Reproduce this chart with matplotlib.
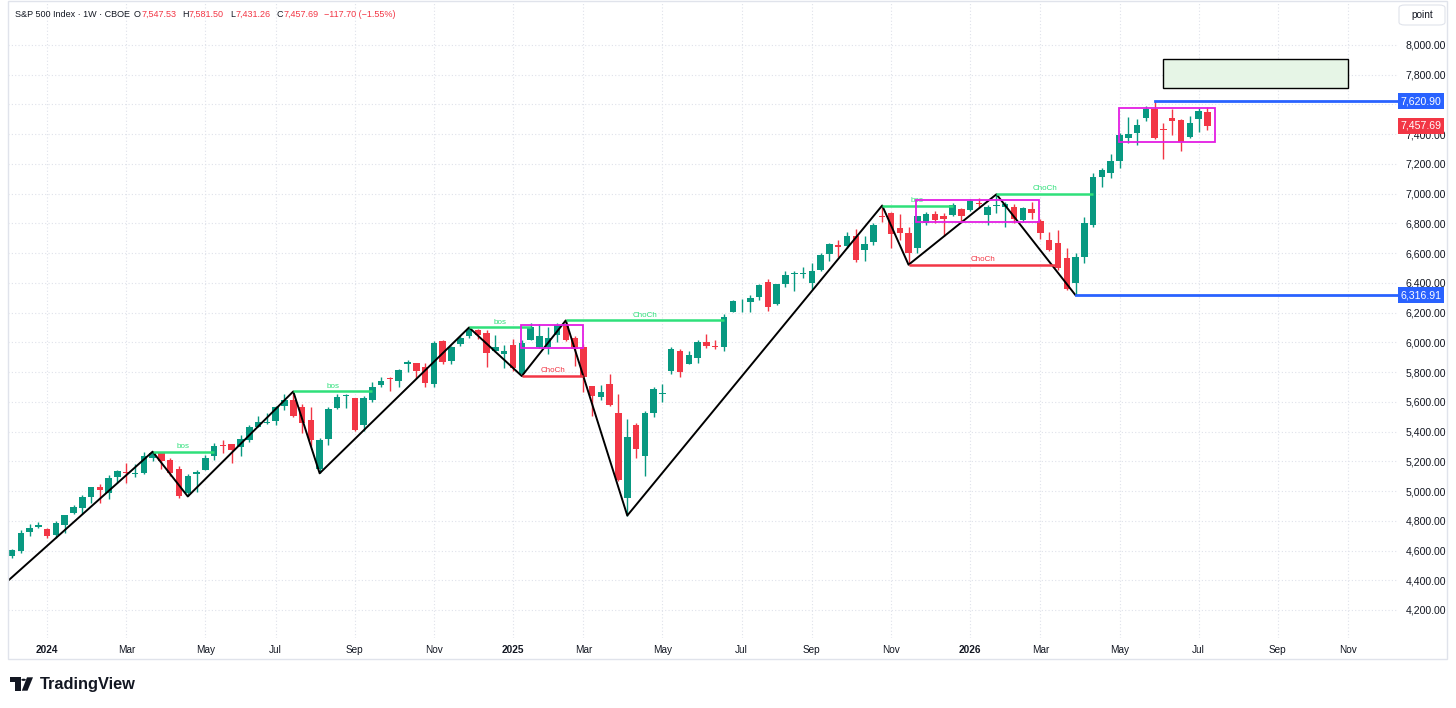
import numpy as np
import pandas as pd
import matplotlib
matplotlib.use("Agg")
import matplotlib.pyplot as plt
from matplotlib.patches import Rectangle, Polygon, Circle, FancyBboxPatch
import matplotlib.transforms as mtransforms

plt.rcParams['font.family'] = ['Liberation Sans', 'DejaVu Sans']

# ---------------- data ----------------
first_week = '2023-12-04'
opens = [4564.37, 4593.39, 4725.58, 4758.86, 4745.20, 4703.70, 4772.35, 4853.42, 4888.91, 4957.19,
         5026.83, 4989.32, 5093.00, 5130.99, 5111.96, 5123.31, 5219.52, 5257.97, 5211.37, 5149.67,
         4987.33, 5114.13, 5142.42, 5233.08, 5305.35, 5315.91, 5297.15, 5341.22, 5432.39, 5459.58,
         5471.08, 5572.75, 5614.05, 5565.30, 5476.55, 5151.14, 5351.68, 5557.23, 5637.77, 5623.89,
         5442.07, 5615.21, 5711.90, 5757.73, 5737.80, 5855.08, 5857.82, 5833.93, 5722.43, 6008.86,
         5874.17, 5992.28, 6040.11, 6083.01, 6063.79, 5940.25, 5920.67, 5982.81, 5788.10, 6014.12,
         5969.65, 5969.65, 6046.40, 6121.60, 6026.69, 5968.33, 5705.37, 5635.60, 5718.08, 5527.91,
         4953.79, 5441.96, 5232.94, 5525.21, 5655.32, 5807.25, 5939.95, 5854.07, 5896.68, 6004.60,
         5977.05, 5969.67, 6204.95, 6255.15, 6268.44, 6304.74, 6406.17, 6260.40, 6389.67, 6457.67,
         6457.47, 6401.51, 6485.00, 6594.00, 6657.00, 6650.00, 6718.00, 6621.00, 6676.00, 6850.00,
         6867.00, 6770.00, 6737.00, 6632.00, 6805, 6861, 6852, 6857, 6895, 6890,
         6940, 6857, 6920, 6913, 6908, 6823, 6895, 6816, 6688, 6666,
         6565, 6397, 6576, 6789, 7110, 7141, 7222, 7377, 7410, 7507,
         7567, 7432, 7508, 7496, 7383, 7500, 7547.53]
highs = [4609.23, 4738.57, 4778.01, 4793.30, 4754.33, 4798.50, 4842.07, 4907.85, 4975.29, 5030.06,
         5048.39, 5111.06, 5140.33, 5189.26, 5179.14, 5261.10, 5264.85, 5263.95, 5222.22, 5168.43,
         5114.62, 5139.12, 5239.66, 5325.49, 5341.88, 5315.91, 5375.08, 5447.25, 5505.53, 5523.64,
         5570.33, 5655.56, 5669.67, 5585.34, 5566.16, 5358.60, 5563.41, 5651.62, 5651.37, 5626.02,
         5636.27, 5733.57, 5767.37, 5765.14, 5822.13, 5878.46, 5862.82, 5863.04, 6012.45, 6017.31,
         5977.87, 6044.17, 6099.97, 6089.41, 6085.19, 6049.75, 5985.06, 6021.04, 6014.96, 6128.18,
         6120.91, 6101.28, 6127.47, 6147.43, 6043.65, 5986.09, 5705.37, 5715.33, 5786.95, 5655.59,
         5481.34, 5459.46, 5540.59, 5700.53, 5720.10, 5969.24, 5953.06, 5943.13, 6016.87, 6059.40,
         6018.20, 6187.68, 6284.65, 6290.22, 6315.61, 6395.82, 6427.02, 6395.16, 6481.34, 6478.67,
         6508.23, 6532.65, 6600.21, 6671.00, 6690.00, 6740.00, 6760.00, 6715.00, 6801.00, 6920.34,
         6880.00, 6863.00, 6775.00, 6853.00, 6879, 6886, 6868, 6935, 6902, 6962,
         6969, 6924, 6996, 6946, 6931, 6912, 6946, 6828, 6744, 6756,
         6633, 6599, 6845, 7137, 7171, 7267, 7406, 7514, 7500, 7590,
         7620.90, 7473, 7567, 7500, 7522, 7574, 7581.50]
lows = [4546.50, 4583.00, 4699.71, 4751.99, 4682.11, 4682.11, 4714.82, 4845.15, 4845.15, 4918.09,
        4920.31, 4946.00, 5057.29, 5056.82, 5091.38, 5117.50, 5203.42, 5146.06, 5102.54, 4953.56,
        4963.50, 4990.58, 5142.42, 5211.16, 5256.93, 5191.68, 5234.32, 5327.25, 5428.07, 5447.87,
        5446.41, 5546.36, 5497.04, 5390.95, 5302.40, 5119.26, 5306.99, 5550.74, 5560.95, 5402.62,
        5404.92, 5596.35, 5698.87, 5674.00, 5696.68, 5800.53, 5762.41, 5696.51, 5696.51, 5853.01,
        5856.26, 5975.64, 6030.17, 6024.93, 5832.30, 5932.86, 5829.53, 5809.22, 5773.31, 6014.12,
        5962.92, 5923.93, 6003.00, 6008.56, 5837.66, 5666.29, 5504.65, 5610.76, 5572.42, 5069.90,
        4835.04, 5220.79, 5101.63, 5497.04, 5602.00, 5786.08, 5767.41, 5854.07, 5861.43, 5963.21,
        5952.56, 5943.23, 6201.01, 6201.59, 6201.84, 6281.71, 6212.69, 6248.49, 6373.37, 6343.85,
        6430.48, 6360.58, 6478.00, 6549.00, 6576.00, 6633.00, 6540.00, 6549.00, 6655.00, 6810.00,
        6633.00, 6688.00, 6521.92, 6600.00, 6789, 6801, 6715, 6850, 6816, 6885,
        6902, 6789, 6868, 6778, 6805, 6811, 6828, 6693, 6616, 6487,
        6352, 6316.91, 6532, 6778, 7043, 7103, 7171, 7339, 7327, 7491,
        7366, 7231, 7395, 7289, 7372, 7417, 7431.26]
closes = [4604.37, 4719.19, 4754.63, 4769.83, 4697.24, 4783.83, 4839.81, 4890.97, 4958.61, 5026.61,
          5005.57, 5088.80, 5137.08, 5123.69, 5117.09, 5234.18, 5254.35, 5204.34, 5123.41, 4967.23,
          5099.96, 5127.79, 5222.68, 5303.27, 5304.72, 5277.51, 5346.99, 5431.60, 5464.62, 5460.48,
          5567.19, 5615.35, 5505.00, 5459.10, 5346.56, 5344.16, 5554.25, 5634.61, 5648.40, 5408.42,
          5626.02, 5702.55, 5738.17, 5751.07, 5815.03, 5864.67, 5808.12, 5728.80, 5995.54, 5870.62,
          5969.34, 6032.38, 6090.27, 6051.09, 5930.85, 5970.84, 5942.47, 5827.04, 5996.66, 6101.24,
          6040.53, 6025.99, 6114.63, 6013.13, 5954.50, 5770.20, 5638.94, 5667.56, 5580.94, 5074.08,
          5363.36, 5282.70, 5525.21, 5686.67, 5659.91, 5958.38, 5802.82, 5911.69, 6000.36, 5976.97,
          5967.84, 6173.07, 6279.35, 6259.75, 6296.79, 6388.64, 6238.01, 6389.45, 6449.80, 6466.91,
          6460.26, 6481.50, 6584.29, 6664.36, 6643.70, 6715.79, 6552.51, 6664.01, 6791.69, 6840.20,
          6728.80, 6734.11, 6602.99, 6849.09, 6861, 6823, 6828, 6924, 6850, 6953,
          6932, 6908, 6926, 6929, 6828, 6901, 6872, 6733, 6621, 6498,
          6357, 6576, 6805, 7114, 7159, 7222, 7395, 7399, 7462, 7567,
          7377, 7426, 7491, 7350, 7473, 7558, 7457.69]

# zigzag swing points (bar index, price)
zz_idx = [-6, 16, 20, 32, 35, 52, 58, 63, 70, 99, 102, 112, 121]
zz_price = [4103.78, 5264.85, 4963.50, 5669.67, 5119.26, 6099.97, 5773.31, 6147.43,
            4835.04, 6920.34, 6521.92, 6996.00, 6316.91]

# structure breaks
struct_start = [16, 32, 52, 63, 58, 99, 112, 102]
struct_end = [23, 41, 59, 81, 65, 107, 123, 119]
struct_level = [5264.85, 5669.67, 6099.97, 6147.43, 5773.31, 6920.34, 6996.00, 6521.92]
struct_label = ['bos', 'bos', 'bos', 'ChoCh', 'ChoCh', 'bos', 'ChoCh', 'ChoCh']
struct_bull = [True, True, True, True, False, True, True, False]

# consolidation boxes
box_x0 = [57.9, 102.8, 125.9]
box_x1 = [65.0, 116.8, 136.9]
box_lo = [5960, 6811, 7346]
box_hi = [6117, 6957, 7574]

# key levels
level_idx = [121, 130]
level_price = [6316.91, 7620.90]

# target zone
zone_x0, zone_x1 = 131, 152
zone_lo, zone_hi = 7710, 7905

price_ticks = [4200, 4400, 4600, 4800, 5000, 5200, 5400, 5600, 5800, 6000, 6200,
               6400, 6600, 6800, 7000, 7200, 7400, 7600, 7800, 8000]
hidden_price_labels = [7600]   # covered by the 7,620.90 marker in the reference
tick_months = ['2024-01', '2024-03', '2024-05', '2024-07', '2024-09', '2024-11',
               '2025-01', '2025-03', '2025-05', '2025-07', '2025-09', '2025-11',
               '2026-01', '2026-03', '2026-05', '2026-07', '2026-09', '2026-11']
tick_labels = ['2024', 'Mar', 'May', 'Jul', 'Sep', 'Nov',
               '2025', 'Mar', 'May', 'Jul', 'Sep', 'Nov',
               '2026', 'Mar', 'May', 'Jul', 'Sep', 'Nov']

last_price = 7457.69

# ---------------- figure ----------------
W, H = 1456, 708
fig = plt.figure(figsize=(W / 100, H / 100), dpi=100)
fig.patch.set_facecolor('white')

def fx(px):
    return px / W

def fy(py):
    return 1 - py / H

ax_left, ax_right, ax_top, ax_bot = 8, 1397, 2, 638
ax = fig.add_axes([fx(ax_left), fy(ax_bot), (ax_right - ax_left) / W, (ax_bot - ax_top) / H])
ax.set_xlim(-0.455, 157.57)
ax.set_ylim(4011.5, 8289.2)
for s in ax.spines.values():
    s.set_visible(False)

GREEN = '#089981'
RED = '#f23645'
TXT = '#131722'

n = len(opens)
idx = np.arange(n)
o = np.array(opens, float)
h = np.array(highs, float)
l = np.array(lows, float)
c = np.array(closes, float)
up = c >= o
cols = np.where(up, GREEN, RED)
body_lo = np.minimum(o, c)
body_h = np.maximum(np.abs(c - o), 6)

ax.vlines(idx, l, h, colors=cols, lw=1.0, zorder=3)
ax.bar(idx, body_h, bottom=body_lo, width=0.74, color=cols, zorder=3.1, linewidth=0)

# grid / ticks
ax.set_yticks(price_ticks)
ax.set_yticklabels(['' if p in hidden_price_labels else f'{p:,.2f}' for p in price_ticks])
dates = pd.date_range(first_week, periods=170, freq='7D')
tick_pos = []
for m in tick_months:
    start = pd.Timestamp(m + '-01')
    tick_pos.append(int(np.argmax(dates >= start)))
ax.set_xticks(tick_pos)
ax.set_xticklabels(tick_labels)
for lab in ax.get_xticklabels():
    if lab.get_text().isdigit():
        lab.set_fontweight('bold')
ax.grid(True, color='#dfe2ea', linestyle=(0, (1, 2)), lw=0.8)
ax.set_axisbelow(True)
ax.yaxis.tick_right()
ax.tick_params(axis='y', length=0, pad=6, labelsize=7.6, labelcolor=TXT)
ax.tick_params(axis='x', length=0, pad=5, labelsize=7.2, labelcolor=TXT)

# zigzag
ax.plot(zz_idx, zz_price, color='black', lw=1.4, zorder=4, solid_capstyle='round')

# structure lines
BULL = '#2fe07a'
for s0, s1, lv, lab, bull in zip(struct_start, struct_end, struct_level, struct_label, struct_bull):
    colr = BULL if bull else '#f23645'
    ax.plot([s0, s1], [lv, lv], color=colr, lw=1.8, zorder=4.2, solid_capstyle='butt')
    ax.text((s0 + s1) / 2, lv + 12, lab, color=colr, fontsize=5.8, ha='center', va='bottom', zorder=4.3)

# boxes
for x0, x1, lo, hi in zip(box_x0, box_x1, box_lo, box_hi):
    ax.add_patch(Rectangle((x0, lo), x1 - x0, hi - lo, fill=False, ec='#e31ee3', lw=1.3, zorder=4.5))

# target zone
ax.add_patch(Rectangle((zone_x0, zone_lo), zone_x1 - zone_x0, zone_hi - zone_lo,
                       fc='#e6f5e6', ec='black', lw=1.0, zorder=2.5))

# key levels
BLUE = '#2962ff'
trans = mtransforms.blended_transform_factory(ax.transAxes, ax.transData)
for li, lp in zip(level_idx, level_price):
    ax.plot([li, 157.57], [lp, lp], color=BLUE, lw=2.0, zorder=4.6, clip_on=False)
    ax.text(1.0025, lp, f'{lp:,.2f}', transform=trans, ha='left', va='center', color='white',
            fontsize=7.6, zorder=10, clip_on=False,
            bbox=dict(boxstyle='square,pad=0.28', fc=BLUE, ec='none'))
ax.text(1.0025, last_price, f'{last_price:,.2f}', transform=trans, ha='left', va='center',
        color='white', fontsize=7.6, zorder=10, clip_on=False,
        bbox=dict(boxstyle='square,pad=0.28', fc=RED, ec='none'))

# outer frame
fig.patches.append(Rectangle((fx(8), fy(659)), (1447 - 8) / W, (659 - 1) / H, transform=fig.transFigure,
                             fill=False, ec='#e0e3eb', lw=1.0))

# "point" button
fig.patches.append(FancyBboxPatch((fx(1399), fy(25)), 46 / W, 20 / H, boxstyle='round,pad=0,rounding_size=0.004',
                                  transform=fig.transFigure, fc='white', ec='#e0e3eb', lw=0.8))
fig.text(fx(1422), fy(15.5), 'point', ha='center', va='center', fontsize=7.2, color=TXT)

# header (laid out left to right)
renderer = fig.canvas.get_renderer()
hy = fy(14.5)
hs = 6.5
header_parts = [('S&P 500 Index · 1W · CBOE', TXT, 4.0), ('O', TXT, 0.3), ('7,547.53', RED, 6.0),
                ('H', TXT, 0.3), ('7,581.50', RED, 6.0), ('L', TXT, 0.3), ('7,431.26', RED, 6.0),
                ('C', TXT, 0.3), ('7,457.69', RED, 6.0), ('\u2212117.70 (\u22121.55%)', RED, 0)]
xpos = 15.0
for s, colr, gap in header_parts:
    t = fig.text(fx(xpos), hy, s, ha='left', va='center', fontsize=hs, color=colr)
    bb = t.get_window_extent(renderer)
    xpos = bb.x1 + gap

# TradingView logo
def P(pts):
    return [(fx(a), fy(b)) for a, b in pts]
fig.patches.append(Polygon(P([(9.5, 677.3), (20.7, 677.3), (20.7, 690.7), (15, 690.7), (15, 682.2), (9.5, 682.2)]),
                           closed=True, transform=fig.transFigure, fc=TXT, ec='none'))
fig.patches.append(Circle((fx(23.6), fy(679.8)), 2.3 / W, transform=fig.transFigure, fc=TXT, ec='none'))
fig.patches.append(Polygon(P([(27.0, 677.3), (33.0, 677.3), (27.5, 690.7), (21.8, 690.7)]),
                           closed=True, transform=fig.transFigure, fc=TXT, ec='none'))
fig.text(fx(39.5), fy(684), 'TradingView', ha='left', va='center', fontsize=11.8, fontweight='bold', color=TXT)

fig.savefig('out.png', dpi=100, facecolor='white')
